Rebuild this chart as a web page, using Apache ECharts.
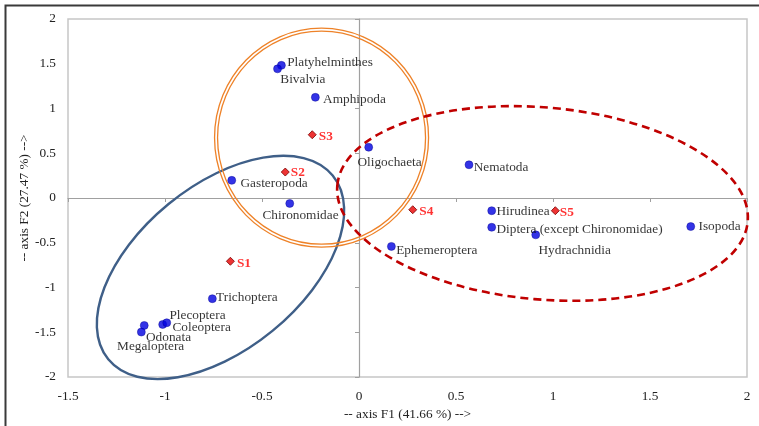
<!DOCTYPE html>
<html>
<head>
<meta charset="utf-8">
<script src="https://cdn.jsdelivr.net/npm/echarts@6/dist/echarts.min.js"></script>
<style>
  html, body { margin: 0; padding: 0; background: #fff; }
  #chart { width: 759px; height: 426px; }
</style>
</head>
<body>
<div id="chart"></div>
<script>
// PCA biplot: taxa (blue dots) and sampling sites (red diamonds) on F1 x F2
const taxa = ['Platyhelminthes', 'Bivalvia', 'Amphipoda', 'Gasteropoda', 'Chironomidae',
  'Oligochaeta', 'Nematoda', 'Hirudinea', 'Diptera (except Chironomidae)', 'Hydrachnidia',
  'Isopoda', 'Ephemeroptera', 'Trichoptera', 'Plecoptera', 'Coleoptera', 'Odonata', 'Megaloptera'];
const taxaF1 = [-0.40, -0.42, -0.225, -0.656, -0.357, 0.05, 0.567, 0.684, 0.684, 0.911,
  1.71, 0.167, -0.756, -1.012, -0.991, -1.107, -1.122];
const taxaF2 = [1.482, 1.443, 1.125, 0.197, -0.061, 0.567, 0.371, -0.142, -0.327, -0.412,
  -0.319, -0.541, -1.125, -1.413, -1.394, -1.424, -1.498];

const sites = ['S1', 'S2', 'S3', 'S4', 'S5'];
const siteF1 = [-0.663, -0.38, -0.241, 0.277, 1.012];
const siteF2 = [-0.707, 0.29, 0.707, -0.131, -0.142];

const xTicks = { min: -1.5, max: 2, step: 0.5 };
const yTicks = { min: -2, max: 2, step: 0.5 };

// label placement (pixel offset of the text's left/middle from the marker centre)
const taxaLabelOffset = {
  'Platyhelminthes': [6, -5], 'Bivalvia': [3, 8], 'Amphipoda': [8, 0], 'Gasteropoda': [9, 1],
  'Chironomidae': [-27, 10], 'Oligochaeta': [-11, 13], 'Nematoda': [5, 0], 'Hirudinea': [5, -1],
  'Diptera (except Chironomidae)': [5, 0], 'Hydrachnidia': [3, 13], 'Isopoda': [8, -2],
  'Ephemeroptera': [5, 2], 'Trichoptera': [4, -3], 'Plecoptera': [7, -11], 'Coleoptera': [6, 2],
  'Odonata': [2, 10], 'Megaloptera': [-24, 12]
};
const siteLabelOffset = { S1: [7, 0], S2: [6, -1], S3: [7, 0], S4: [7, 0], S5: [5, 0] };

const SYM = 8;
const FS = 13.3;
const serif = '"Liberation Serif", "Times New Roman", serif';

function labelAt(off) {
  return { position: [off[0] + SYM / 2, off[1] + SYM / 2 + 2.5] };
}

const taxaData = taxa.map((n, i) => ({
  name: n, value: [taxaF1[i], taxaF2[i]], label: labelAt(taxaLabelOffset[n])
}));
const siteData = sites.map((n, i) => ({
  name: n, value: [siteF1[i], siteF2[i]], label: labelAt(siteLabelOffset[n])
}));

const chart = echarts.init(document.getElementById('chart'), null, { renderer: 'canvas' });

const labelFont = { fontFamily: serif, fontSize: FS, color: '#000' };

chart.setOption({
  animation: false,
  backgroundColor: '#fff',
  grid: { left: 68, right: 12, top: 19, bottom: 46, show: true, borderColor: '#c6c6c6', borderWidth: 1.5 },
  xAxis: [
    {
      type: 'value', min: xTicks.min, max: xTicks.max, interval: xTicks.step, position: 'bottom',
      axisLine: { show: false, onZero: false }, axisTick: { show: false }, splitLine: { show: false },
      axisLabel: { fontFamily: serif, fontSize: FS, color: '#222', margin: 13 },
      name: '-- axis F1 (41.66 %) -->', nameLocation: 'middle', nameGap: 31, nameMoveOverlap: false,
      nameTextStyle: { fontFamily: serif, fontSize: FS, color: '#222' }
    },
    {
      type: 'value', min: xTicks.min, max: xTicks.max, interval: xTicks.step, position: 'bottom',
      axisLine: { show: true, onZero: true, onZeroAxisIndex: 1, lineStyle: { color: '#a0a0a0', width: 1.2 } },
      axisTick: { show: true, length: 4, lineStyle: { color: '#a0a0a0' } },
      axisLabel: { show: false }, splitLine: { show: false }
    }
  ],
  yAxis: [
    {
      type: 'value', min: yTicks.min, max: yTicks.max, interval: yTicks.step, position: 'left',
      axisLine: { show: false, onZero: false }, axisTick: { show: false }, splitLine: { show: false },
      axisLabel: { fontFamily: serif, fontSize: FS, color: '#222', margin: 12 },
      name: '-- axis F2 (27.47 %) -->', nameLocation: 'middle', nameGap: 37, nameRotate: 90,
      nameMoveOverlap: false,
      nameTextStyle: { fontFamily: serif, fontSize: FS, color: '#222' }
    },
    {
      type: 'value', min: yTicks.min, max: yTicks.max, interval: yTicks.step, position: 'left',
      axisLine: { show: true, onZero: true, onZeroAxisIndex: 1, lineStyle: { color: '#a0a0a0', width: 1.2 } },
      axisTick: { show: true, length: 4, lineStyle: { color: '#a0a0a0' } },
      axisLabel: { show: false }, splitLine: { show: false }
    }
  ],
  series: [
    {
      name: 'Taxa', type: 'scatter', xAxisIndex: 0, yAxisIndex: 0, z: 3,
      symbol: 'circle', symbolSize: SYM,
      itemStyle: { color: '#0000e0', borderColor: '#00008c', borderWidth: 0.5 },
      label: { show: true, formatter: '{b}', align: 'left', verticalAlign: 'middle', ...labelFont },
      data: taxaData
    },
    {
      name: 'Sites', type: 'scatter', xAxisIndex: 0, yAxisIndex: 0, z: 3,
      symbol: 'diamond', symbolSize: SYM,
      itemStyle: { color: '#e80000', borderColor: '#7a0000', borderWidth: 1 },
      label: { show: true, formatter: '{b}', align: 'left', verticalAlign: 'middle',
        fontFamily: serif, fontSize: FS, fontWeight: 'bold', color: '#ff0000' },
      data: siteData
    }
  ]
});

// grouping ellipses: centre in data units, radii in pixels, tilt in degrees (counter-clockwise)
const groups = [
  { center: [-0.714, -0.776], rx: 145, ry: 82, tilt: 39.3, kind: 'blue' },
  { center: [-0.193, 0.674], rx: 105.5, ry: 108, tilt: 0, kind: 'orange' },
  { center: [0.946, -0.061], rx: 206, ry: 96, tilt: -5, kind: 'red' }
];

const shapes = [];
groups.forEach(g => {
  const p = chart.convertToPixel({ xAxisIndex: 0, yAxisIndex: 0 }, g.center);
  const rot = g.tilt * Math.PI / 180;
  if (g.kind === 'orange') {
    [1.5, -1.5].forEach(d => shapes.push({
      type: 'ellipse', x: p[0], y: p[1], rotation: rot, z: 1, silent: true,
      shape: { cx: 0, cy: 0, rx: g.rx + d, ry: g.ry + d },
      style: { fill: 'none', stroke: '#ee8228', lineWidth: 1.3 }
    }));
  } else if (g.kind === 'blue') {
    shapes.push({
      type: 'ellipse', x: p[0], y: p[1], rotation: rot, z: 1, silent: true,
      shape: { cx: 0, cy: 0, rx: g.rx, ry: g.ry },
      style: { fill: 'none', stroke: '#3f5f88', lineWidth: 2.4 }
    });
  } else {
    shapes.push({
      type: 'ellipse', x: p[0], y: p[1], rotation: rot, z: 1, silent: true,
      shape: { cx: 0, cy: 0, rx: g.rx, ry: g.ry },
      style: { fill: 'none', stroke: '#c00000', lineWidth: 2.6, lineDash: [8, 5] }
    });
  }
});
// outer chart frame
shapes.push({
  type: 'rect', z: 0, silent: true,
  shape: { x: 5.5, y: 5.5, width: 780, height: 440 },
  style: { fill: 'none', stroke: '#3a3a3a', lineWidth: 2 }
});

chart.setOption({ graphic: shapes });
</script>
</body>
</html>
